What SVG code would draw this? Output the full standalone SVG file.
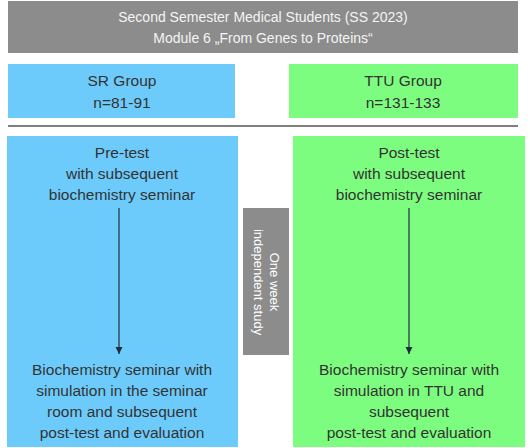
<svg xmlns="http://www.w3.org/2000/svg" width="530" height="448" viewBox="0 0 530 448">
<style>
text{font-family:"Liberation Sans",Arial,sans-serif;font-size:15.5px;text-anchor:middle;fill:#333}
.h{fill:#f4f4f4;font-size:14px}
.v{fill:#fff;font-size:13px}
.blue{fill:#6dcbfb}
.green{fill:#7dfd7f}
.gray{fill:#8c8c8c}
</style>
<defs>
<marker id="ah" markerWidth="8" markerHeight="8" refX="7" refY="4" orient="auto" markerUnits="userSpaceOnUse">
<path d="M0,0.5 L7,4 L0,7.5 Z" fill="#1f2d3d"/>
</marker>
</defs>
<rect width="530" height="448" fill="#fff"/>
<g id="header">
<rect class="gray" x="8" y="1" width="510" height="52"/>
<text class="h" x="263" y="22">Second Semester Medical Students (SS 2023)</text>
<text class="h" x="263" y="43">Module 6 „From Genes to Proteins“</text>
</g>
<g id="sr-group">
<rect class="blue" x="8" y="64" width="227" height="54"/>
<text x="122" y="86">SR Group</text>
<text x="122" y="108">n=81-91</text>
</g>
<g id="ttu-group">
<rect class="green" x="289" y="64" width="229" height="54"/>
<text x="403" y="86">TTU Group</text>
<text x="403" y="108">n=131-133</text>
</g>
<line x1="8" y1="126" x2="518" y2="126" stroke="#555" stroke-width="1.5"/>
<g id="sr-box">
<rect class="blue" x="7" y="136" width="231" height="311"/>
<text x="122" y="158">Pre-test</text>
<text x="122" y="179">with subsequent</text>
<text x="122" y="200">biochemistry seminar</text>
<text x="122" y="375">Biochemistry seminar with</text>
<text x="122" y="396">simulation in the seminar</text>
<text x="122" y="417">room and subsequent</text>
<text x="122" y="438">post-test and evaluation</text>
</g>
<g id="ttu-box">
<rect class="green" x="293" y="136" width="232" height="311"/>
<text x="409" y="158">Post-test</text>
<text x="409" y="179">with subsequent</text>
<text x="409" y="200">biochemistry seminar</text>
<text x="409" y="375">Biochemistry seminar with</text>
<text x="409" y="396">simulation in TTU and</text>
<text x="409" y="417">subsequent</text>
<text x="409" y="438">post-test and evaluation</text>
</g>
<g id="study">
<rect class="gray" x="243" y="208" width="46" height="147"/>
<g transform="translate(266,282) rotate(90)">
<text class="v" x="0" y="-4">One week</text>
<text class="v" x="0" y="12">independent study</text>
</g>
</g>
<g id="connectors">
<line x1="119" y1="208" x2="119" y2="354" stroke="#1f2d3d" stroke-width="1.2" marker-end="url(#ah)"/>
<line x1="409" y1="208" x2="409" y2="354" stroke="#1f2d3d" stroke-width="1.2" marker-end="url(#ah)"/>
</g>
</svg>
